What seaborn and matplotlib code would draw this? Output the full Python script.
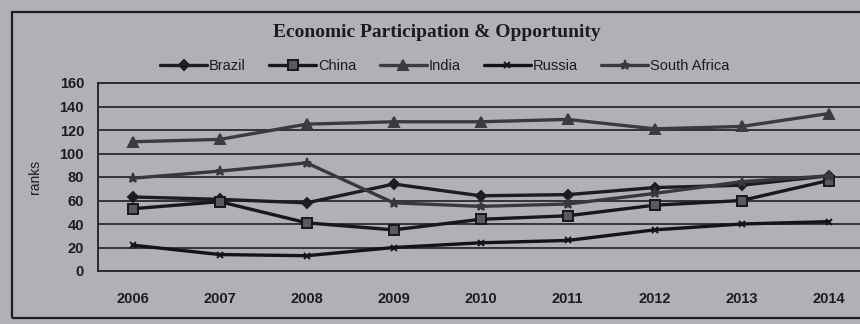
import matplotlib
matplotlib.use("Agg")
import matplotlib.pyplot as plt
import pandas as pd
import seaborn as sns
from matplotlib.patches import Rectangle

# Ranks by year for each country
years = ["2006", "2007", "2008", "2009", "2010", "2011", "2012", "2013", "2014"]
brazil = [63, 61, 58, 74, 64, 65, 71, 73, 81]
china = [53, 59, 41, 35, 44, 47, 56, 60, 77]
india = [110, 112, 125, 127, 127, 129, 121, 123, 134]
russia = [22, 14, 13, 20, 24, 26, 35, 40, 42]
south_africa = [79, 85, 92, 58, 55, 57, 66, 76, 81]
y_ticks = [0, 20, 40, 60, 80, 100, 120, 140, 160]

countries = ["Brazil", "China", "India", "Russia", "South Africa"]
series = [brazil, china, india, russia, south_africa]

df = pd.DataFrame({
    "year": years * len(countries),
    "rank": [v for s in series for v in s],
    "country": [c for c in countries for _ in years],
})

bg = "#b2b0b5"
ink = "#1c1b1e"

sns.set_theme(style="white")
plt.rcParams["font.family"] = ["Liberation Sans", "DejaVu Sans"]

fig = plt.figure(figsize=(8.6, 3.24), dpi=100, facecolor=bg)
ax = fig.add_axes([98 / 860, 53 / 324, 774 / 860, 188 / 324])
ax.set_facecolor(bg)

palette = {
    "Brazil": "#1d1c20",
    "China": "#18171a",
    "India": "#3b3a3e",
    "Russia": "#141316",
    "South Africa": "#39383c",
}
markers = {
    "Brazil": "D",
    "China": "s",
    "India": "^",
    "Russia": "x",
    "South Africa": "*",
}
sizes = {"Brazil": 5, "China": 7.5, "India": 6.5, "Russia": 4, "South Africa": 6.5}

for c in countries:
    sub = df[df["country"] == c]
    sns.lineplot(
        data=sub, x="year", y="rank", ax=ax, color=palette[c],
        marker=markers[c], markersize=sizes[c], linewidth=2.4,
        markeredgecolor=palette[c],
        markerfacecolor="#5a595d" if c == "China" else palette[c],
        markeredgewidth=1.4, label=c, sort=False,
    )

ax.set_xlim(-0.4, 8.5)
ax.set_ylim(0, 160)
ax.set_yticks(y_ticks)
ax.set_yticklabels([str(t) for t in y_ticks])
ax.yaxis.grid(True, color="#2a292c", linewidth=1.3)
ax.set_axisbelow(True)
ax.tick_params(axis="both", length=0, labelsize=10.5, colors=ink)
ax.tick_params(axis="y", pad=10)
ax.tick_params(axis="x", pad=15)
for lab in ax.get_xticklabels() + ax.get_yticklabels():
    lab.set_fontweight("bold")

ax.set_xlabel("")
ax.set_ylabel("ranks", fontsize=10, color=ink, labelpad=13)

for side in ["left", "bottom", "top"]:
    ax.spines[side].set_visible(True)
    ax.spines[side].set_color("#2a292c")
    ax.spines[side].set_linewidth(1.4)
ax.spines["right"].set_visible(False)

fig.text(0.508, 0.9, "Economic Participation & Opportunity",
         ha="center", va="center", fontsize=14, fontweight="bold",
         family=["Liberation Serif", "DejaVu Serif"], color=ink)

handles, labels = ax.get_legend_handles_labels()
ax.legend(handles, labels, loc="center", bbox_to_anchor=(445 / 860, 1 - 66 / 324),
          bbox_transform=fig.transFigure, ncol=5, frameon=False,
          fontsize=10.5, handlelength=3.2, handletextpad=0.15,
          columnspacing=1.6, labelcolor=ink)

# Chart area border
fig.patches.append(Rectangle((12 / 860, 6 / 324), 1.0, 1 - 18 / 324,
                             transform=fig.transFigure, fill=False,
                             edgecolor="#1f1e21", linewidth=1.6))

fig.savefig("out.png", dpi=100, facecolor=bg)
